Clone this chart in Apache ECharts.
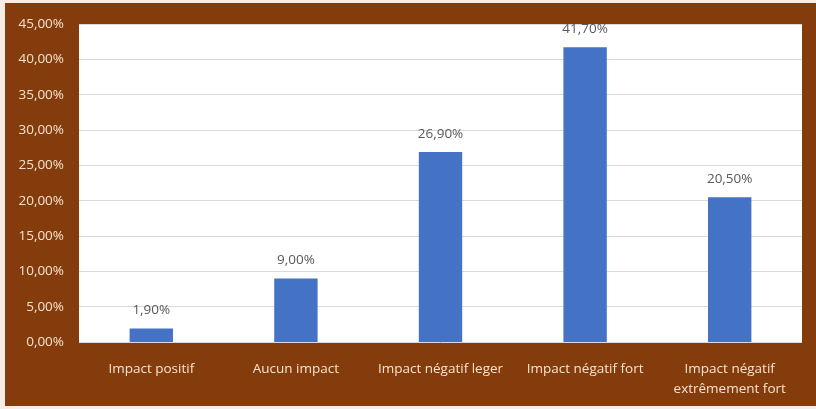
<!DOCTYPE html>
<html>
<head>
<meta charset="utf-8">
<style>
html,body{margin:0;padding:0;background:#fff;}
#chart{width:816px;height:409px;}
</style>
<script src="https://cdn.jsdelivr.net/npm/echarts@6/dist/echarts.min.js"></script>
</head>
<body>
<div id="chart"></div>
<script>
const categories = ["Impact positif", "Aucun impact", "Impact négatif leger", "Impact négatif fort", "Impact négatif\nextrêmement fort"];
const values = [1.9, 9.0, 26.9, 41.7, 20.5];
const yTicks = [0, 5, 10, 15, 20, 25, 30, 35, 40, 45];

const brown = '#843C0C';
const fmt = v => v.toFixed(2).replace('.', ',') + '%';

const chart = echarts.init(document.getElementById('chart'), null, {renderer: 'canvas'});
chart.setOption({
  animation: false,
  backgroundColor: brown,
  grid: {left: 79, right: 14, top: 24, bottom: 67, show: true, backgroundColor: '#ffffff', borderWidth: 0},
  xAxis: {
    type: 'category',
    data: categories,
    axisLine: {show: false},
    axisTick: {show: false},
    axisLabel: {color: '#F6E3CF', fontFamily: 'Open Sans', fontSize: 13.5, margin: 17, lineHeight: 20, interval: 0}
  },
  yAxis: {
    type: 'value',
    min: yTicks[0],
    max: yTicks[yTicks.length - 1],
    interval: 5,
    axisLine: {show: false},
    axisTick: {show: false},
    splitLine: {lineStyle: {color: '#D9D9D9', width: 1}},
    axisLabel: {color: '#F6E3CF', fontFamily: 'Open Sans', fontSize: 13.5, margin: 15, formatter: v => fmt(v)}
  },
  series: [{
    type: 'bar',
    data: values,
    barWidth: '30%',
    itemStyle: {color: '#4472C4'},
    label: {show: true, position: 'top', distance: 11, color: '#595959', fontFamily: 'Open Sans', fontSize: 13.5, formatter: p => fmt(p.value)}
  }],
  graphic: [
    {type: 'rect', left: 79, top: 0, z: 100, shape: {width: 737, height: 23}, style: {fill: brown}},
    {type: 'rect', left: 0, top: 0, z: 101, shape: {width: 5, height: 409}, style: {fill: '#F7EDE6'}},
    {type: 'rect', left: 0, top: 0, z: 101, shape: {width: 816, height: 3}, style: {fill: '#F7EDE6'}},
    {type: 'rect', left: 0, top: 406, z: 101, shape: {width: 816, height: 3}, style: {fill: '#F7EDE6'}}
  ]
});
</script>
</body>
</html>
